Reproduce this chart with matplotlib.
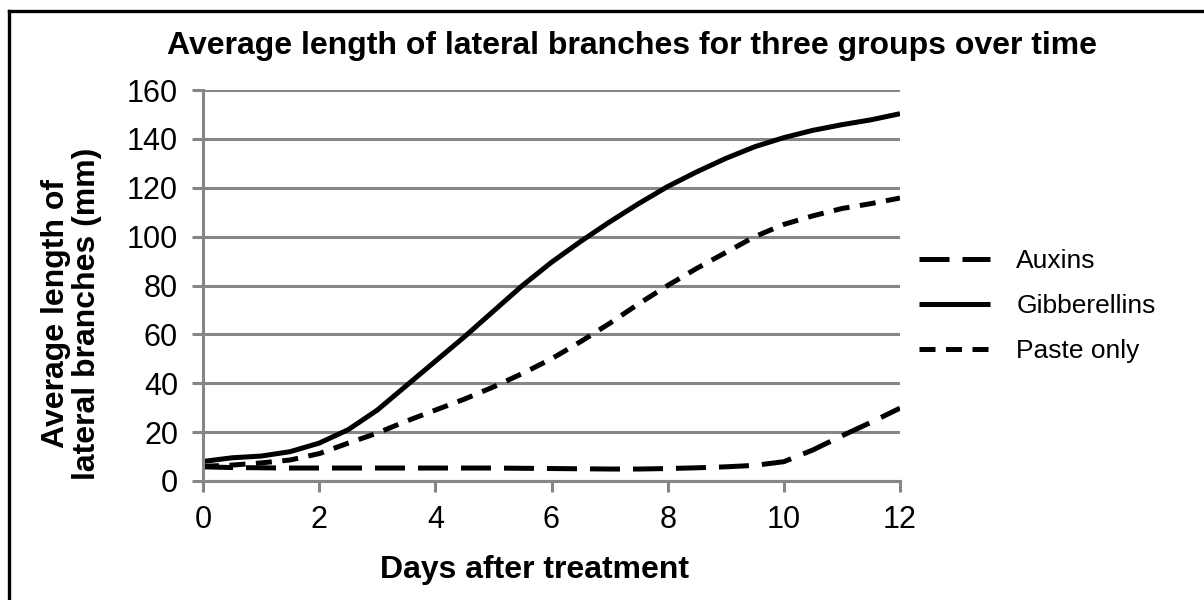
import numpy as np
import matplotlib
matplotlib.use("Agg")
import matplotlib.pyplot as plt
from matplotlib.lines import Line2D

plt.rcParams['font.family'] = ['Liberation Sans', 'DejaVu Sans']

# readings every half day
days = [0, 0.5, 1, 1.5, 2, 2.5, 3, 3.5, 4, 4.5, 5, 5.5, 6, 6.5, 7, 7.5, 8, 8.5, 9,
        9.5, 10, 10.5, 11, 11.5, 12]
auxins = [5.8, 5.5, 5.4, 5.3, 5.3, 5.3, 5.3, 5.3, 5.3, 5.3, 5.3, 5.2, 5.1, 5.0, 4.9,
          4.9, 5.1, 5.4, 5.8, 6.4, 7.9, 12.7, 18.5, 24, 29.8]
gibberellins = [8, 9.5, 10.2, 12, 15.5, 21, 29, 39, 49, 59, 69.5, 80, 89.5, 98, 106,
                113.5, 120.5, 126.5, 132, 136.8, 140.5, 143.5, 145.8, 147.8, 150.3]
paste_only = [6, 6.5, 7.4, 8.6, 11.2, 15.5, 19.6, 24.5, 29, 33.5, 38.5, 44, 50, 57,
              64.5, 72.5, 80, 87, 93.5, 100, 105, 108.5, 111.5, 113.5, 115.8]

grey = '#868686'

fig = plt.figure(figsize=(12.04, 6.0), dpi=100)
ax = fig.add_axes([203 / 1204, 1 - 481 / 600, (900 - 203) / 1204, (481 - 90) / 600])

# top and left border of the chart area
fig.add_artist(Line2D([8.5 / 1204, 1], [1 - 10.5 / 600] * 2, color='black', lw=2.4,
                      transform=fig.transFigure))
fig.add_artist(Line2D([8.5 / 1204] * 2, [0, 1 - 10.5 / 600], color='black', lw=2.4,
                      transform=fig.transFigure))

lw = 3.6
ax.plot(days, auxins, color='black', lw=lw, dashes=(6.0, 2.6), label='Auxins',
        solid_joinstyle='round')
ax.plot(days, gibberellins, color='black', lw=lw, label='Gibberellins',
        solid_joinstyle='round', solid_capstyle='butt')
ax.plot(days, paste_only, color='black', lw=lw, dashes=(3.2, 2.1), label='Paste only',
        solid_joinstyle='round')

ax.set_xlim(0, 12)
ax.set_ylim(0, 160)
ax.set_xticks(range(0, 13, 2))
ax.set_yticks(range(0, 161, 20))
ax.yaxis.grid(True, color=grey, lw=2.2)
ax.set_axisbelow(True)
for s in ['top', 'right']:
    ax.spines[s].set_visible(False)
for s in ['left', 'bottom']:
    ax.spines[s].set_color(grey)
    ax.spines[s].set_linewidth(2.2)
ax.tick_params(axis='both', colors=grey, width=2.2, length=8, labelsize=22,
               labelcolor='black')
ax.tick_params(axis='y', pad=10)
ax.tick_params(axis='x', pad=9)

ax.set_xlabel('Days after treatment', fontsize=23, fontweight='bold')
ax.xaxis.set_label_coords((534 - 203) / 697, -0.19)
ax.set_ylabel('Average length of\nlateral branches (mm)', fontsize=23,
              fontweight='bold', linespacing=1.05)
ax.yaxis.set_label_coords((102 - 203) / 697, 1 - (314 - 90) / 391)
fig.text(632 / 1204, 1 - 46 / 600, 'Average length of lateral branches for three groups over time',
         ha='center', va='center', fontsize=23, fontweight='bold')

leg = fig.legend(loc='center left', bbox_to_anchor=(895 / 1204, 1 - 306 / 600),
                 frameon=False, fontsize=19, handlelength=2.7, labelspacing=0.8,
                 handletextpad=1.0)

fig.savefig('out.png', dpi=100)
